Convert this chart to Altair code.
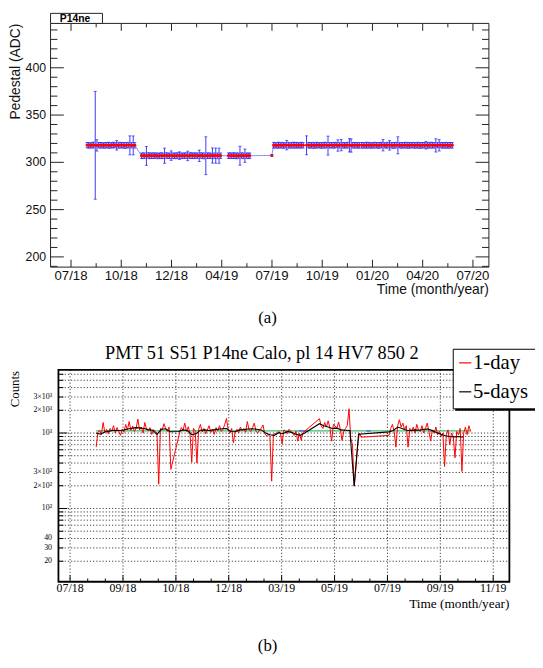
import altair as alt
import pandas as pd

# ======================= panel (a): pedestal vs time =======================
A_SEG_START = [29, 128, 286, 365, 368, 428, 528]   # first day of each run (day 0 = tick "07/18")
A_STEP = 3                                         # days between plotted points
A_SEG_VALUES = [
    [318.2, 318.0, 317.8, 318.1, 318.3, 318.0, 317.9, 318.2, 318.0, 318.1,
     317.8, 318.0, 318.2, 318.1, 317.9, 318.0, 318.3, 318.1, 318.0, 317.9,
     318.2, 318.0, 318.1, 317.8, 318.0, 318.2, 318.0, 318.1, 317.9, 318.0],
    [306.9, 307.1, 307.0, 306.8, 307.2, 307.0, 306.9, 307.1, 307.0, 307.2,
     306.8, 307.0, 307.1, 306.9, 307.0, 307.2, 307.0, 306.9, 307.1, 307.0,
     306.8, 307.0, 307.2, 307.1, 306.9, 307.0, 307.0, 307.1, 306.8, 307.0,
     307.2, 306.9, 307.0, 307.1, 307.0, 306.9, 307.2, 307.0, 306.8, 307.0,
     307.1, 307.0, 306.9, 307.2, 307.0, 307.1, 306.9, 307.0, 307.0],
    [307.0, 307.2, 306.9, 307.1, 307.0, 306.8, 307.1, 307.0, 307.2, 306.9,
     307.0, 307.1, 306.9, 307.0],
    [307.3],
    [318.1, 318.0, 317.9, 318.2, 318.0, 318.1, 317.8, 318.0, 318.2, 318.1,
     317.9, 318.0, 318.2, 318.0, 318.1, 317.9, 318.0, 318.2, 318.0],
    [318.0, 318.2, 317.9, 318.1, 318.0, 317.8, 318.2, 318.0, 318.1, 317.9,
     318.0, 318.2, 318.1, 317.7, 318.0, 318.2, 317.9, 318.1, 318.3, 317.8,
     318.0, 318.2, 318.1, 317.9, 318.0, 318.2, 318.0, 317.8, 318.1, 318.0,
     318.2, 317.9, 318.0],
    [318.1, 318.0, 317.9, 318.2, 318.0, 318.1, 317.8, 318.0, 318.2, 318.1,
     317.9, 318.0, 318.3, 318.1, 318.0, 317.9, 318.2, 318.0, 318.1, 317.8,
     318.0, 318.2, 318.0, 318.1, 317.9, 318.0, 318.2, 318.1, 317.9, 318.0,
     318.1, 318.2, 317.9, 318.0, 318.1, 318.0, 317.8, 318.2, 318.0, 318.1,
     317.9, 318.0, 318.2, 318.1, 318.0, 317.9, 318.1, 318.0, 318.2, 317.9,
     318.0, 318.1, 318.0, 317.9, 318.1, 318.0],
]
A_SEG_ERRORS = [
    [2.8, 3.0, 2.7, 2.9, 3.1, 57.0, 6.0, 2.8, 3.0, 2.9,
     2.7, 3.0, 2.8, 3.1, 2.9, 2.8, 3.0, 2.7, 5.0, 2.9,
     3.0, 2.8, 2.9, 3.1, 2.8, 3.0, 10.0, 2.9, 10.0, 3.0],
    [2.9, 3.0, 2.8, 10.0, 2.9, 3.1, 2.8, 3.0, 2.9, 2.7,
     3.0, 2.8, 3.1, 2.9, 8.0, 3.0, 2.8, 2.9, 5.0, 3.0,
     2.8, 3.1, 2.9, 4.0, 3.0, 2.8, 2.9, 3.0, 5.0, 2.8,
     3.1, 2.9, 3.0, 2.8, 2.9, 6.0, 3.0, 2.8, 3.1, 20.0,
     2.9, 3.0, 2.8, 8.0, 2.9, 8.0, 3.0, 8.0, 2.9],
    [2.9, 3.0, 2.8, 3.1, 2.9, 3.0, 2.8, 10.0, 2.9, 3.0,
     7.0, 2.8, 3.0, 2.9],
    [1.0],
    [3.0, 2.8, 2.9, 3.1, 2.8, 3.0, 2.9, 2.8, 5.0, 3.0,
     2.9, 2.8, 3.1, 2.9, 3.0, 2.8, 2.9, 3.0, 2.8],
    [10.0, 2.9, 3.0, 2.8, 3.1, 2.9, 3.0, 2.8, 2.9, 3.0,
     2.8, 3.1, 2.9, 10.0, 3.0, 2.8, 2.9, 3.0, 2.8, 6.0,
     2.9, 6.0, 3.0, 2.8, 2.9, 3.1, 7.0, 7.0, 2.9, 3.0,
     2.8, 2.9, 3.0],
    [2.9, 3.0, 2.8, 3.1, 2.9, 3.0, 2.8, 2.9, 3.0, 2.8,
     3.1, 2.9, 3.0, 6.0, 2.8, 2.9, 3.0, 5.0, 2.8, 3.1,
     2.9, 3.0, 9.0, 2.8, 2.9, 3.0, 2.8, 3.1, 2.9, 3.0,
     2.8, 2.9, 3.0, 2.8, 3.1, 2.9, 3.0, 2.8, 2.9, 4.0,
     3.0, 2.8, 3.1, 2.9, 3.0, 7.0, 2.8, 6.0, 2.9, 3.0,
     2.8, 3.1, 2.9, 3.0, 2.8, 2.9],
]
A_TICK_DAYS = [0, 91.3, 182.6, 273.9, 365.2, 456.5, 547.8, 639.1, 730.4]
A_TICK_LABELS = ["07/18", "10/18", "12/18", "04/19", "07/19", "10/19", "01/20", "04/20", "07/20"]
A_MINOR_DAYS = [45.7, 137.0, 228.3, 319.6, 410.9, 502.2, 593.5, 684.8]
A_Y_MAJOR = [200, 250, 300, 350, 400]
A_Y_MINOR = [190, 210, 220, 230, 240, 260, 270, 280, 290, 310, 320, 330, 340,
             360, 370, 380, 390, 410, 420, 430, 440]

# ======================= panel (b): counts vs time =======================
B_RED_START = [30, 126, 287, 367]
B_RED_STEP = 2
B_RED_VALUES = [
    [650, 1010, 1090, 950, 1380, 1020, 1120, 980, 1150, 1060,
     1250, 1000, 1180, 1050, 930, 1130, 1020, 1300, 1100, 1420,
     1080, 1240, 1050, 1150, 1530, 1100, 1200, 1000, 1380, 1120,
     1070, 1180, 960, 1110, 1050, 1000, 210, 1150, 1100, 1330,
     1150, 1050, 1200, 330],
    [1000, 1180, 1090, 1350, 1050, 1210, 1000, 410, 1150, 1080,
     400, 1120, 1300, 1030, 1150, 980, 1100, 1250, 1020, 1120,
     960, 1180, 1060, 1250, 1050, 1120, 1300, 1560, 1100, 1000,
     1150, 740, 1050, 1120, 1000, 1200, 1080, 1150, 1020, 1420,
     1100, 1050, 1180, 1350, 1050, 1000, 1100, 1150, 1280, 980,
     920, 950, 900, 230, 940, 1000, 960, 1050, 1000, 720,
     1100, 1060, 980, 1120, 1050, 1000, 930, 1060, 780, 1000,
     800, 1010],
    [1550, 1250, 1150, 1380, 1200, 1450, 1180, 780, 1300, 1250,
     1150, 1400, 1120, 800, 1050, 1150, 1250, 2100, 850, 700,
     200, 350, 700, 1000, 880],
    [930, 1150, 1300, 1050, 650, 1250, 1500, 1200, 1350, 1100,
     1250, 650, 1150, 1050, 1200, 1000, 1300, 1100, 1050, 1250,
     1000, 1150, 1350, 1050, 780, 1100, 1000, 1200, 950, 1050,
     900, 1000, 360, 950, 1100, 700, 1000, 900, 470, 1050,
     950, 1150, 310, 1000, 1200, 950, 1250, 1050],
]
B_BLACK_START = [30, 125, 287, 367]
B_BLACK_STEP = 5
B_BLACK_VALUES = [
    [1000, 965, 1030, 1060, 1090, 1080, 1090, 1120, 1150, 1180,
     1170, 1150, 1110, 1090, 960, 1120, 1140, 1040],
    [1050, 1100, 1080, 950, 980, 1090, 1100, 1080, 1100, 1120,
     1140, 1150, 1050, 1040, 1100, 1110, 1130, 1140, 1120, 1100,
     1000, 950, 930, 1010, 980, 1050, 1020, 960, 930, 1000],
    [1330, 1250, 1200, 1150, 1160, 1100, 1090, 1080, 198, 965],
    [1036, 1080, 1200, 1150, 1090, 1080, 1100, 1090, 1120, 1130,
     1080, 1010, 960, 920, 900, 890, 900, 880],
]
B_GREEN_DAYS = [30, 461]
B_GREEN_LEVEL = 1070
B_BLUE_SEGS = [[263, 273], [341, 346], [414, 418]]
B_BLUE_LEVEL = 1065
B_TICK_DAYS = [0, 60.9, 121.8, 182.6, 243.5, 304.4, 365.3, 426.1, 487.0]
B_TICK_LABELS = ["07/18", "09/18", "10/18", "12/18", "03/19", "05/19", "07/19", "09/19", "11/19"]
B_MINOR_DAYS = [20.3, 40.6, 81.2, 101.5, 142.1, 162.4, 202.9, 223.2,
                263.8, 284.1, 324.7, 345.0, 385.6, 405.8, 446.4, 466.7]
B_Y_LABEL_VALUES = [20, 30, 40, 100, 200, 300, 1000, 2000, 3000]
B_Y_LABELS = ["20", "30", "40", "10²", "2×10²", "3×10²", "10³", "2×10³", "3×10³"]
B_Y_DECADES = [100, 1000]
B_Y_MINOR = [20, 30, 40, 50, 60, 70, 80, 90, 200, 300, 400, 500, 600, 700, 800, 900,
             2000, 3000, 4000, 5000, 6000]

# ======================= layout (pixels) =======================
W, H = 535, 652
A_X0, A_X1, A_Y0, A_Y1 = 43.2, 488.2, 10.7, 258.1
B_X0, B_X1, B_Y0, B_Y1 = 51.2, 509.0, 362.5, 577.5
SANS = "Liberation Sans"
SERIF = "Liberation Serif"

SAX = alt.Scale(domain=[-37.2, 759.4], range=[A_X0, A_X1], nice=False, zero=False)
SAY = alt.Scale(domain=[189.2, 446.9], range=[A_Y1, A_Y0], nice=False, zero=False)
SBX = alt.Scale(domain=[-13.4, 505.6], range=[B_X0, B_X1], nice=False, zero=False)
SBY = alt.Scale(type="log", domain=[10.7, 6850], range=[B_Y1, B_Y0], nice=False)

one = pd.DataFrame({"k": [0]})


def ax(f):
    return alt.X(f + ":Q", scale=SAX, axis=None)


def ay(f):
    return alt.Y(f + ":Q", scale=SAY, axis=None)


def bx(f):
    return alt.X(f + ":Q", scale=SBX, axis=None)


def by(f):
    return alt.Y(f + ":Q", scale=SBY, axis=None)


# ---------- panel (a) ----------
rows = []
for start, vals, errs in zip(A_SEG_START, A_SEG_VALUES, A_SEG_ERRORS):
    for i, (v, e) in enumerate(zip(vals, errs)):
        rows.append({"day": start + i * A_STEP, "val": v, "lo": v - e, "hi": v + e})
dfa = pd.DataFrame(rows)
dfa_xt = pd.DataFrame({"d": A_TICK_DAYS, "lab": A_TICK_LABELS})
dfa_xm = pd.DataFrame({"d": A_MINOR_DAYS})
dfa_yt = pd.DataFrame({"v": A_Y_MAJOR, "lab": [str(v) for v in A_Y_MAJOR]})
dfa_ym = pd.DataFrame({"v": A_Y_MINOR})

FR = "#222222"
a_layers = [
    alt.Chart(dfa).mark_line(color="#8c8cff", strokeWidth=1).encode(x=ax("day"), y=ay("val")),
    alt.Chart(dfa).mark_rule(color="#3a3aff", strokeWidth=1).encode(x=ax("day"), y=ay("lo"), y2="hi:Q"),
    alt.Chart(dfa).mark_tick(orient="horizontal", size=3, thickness=1, color="#2020ff").encode(x=ax("day"), y=ay("lo")),
    alt.Chart(dfa).mark_tick(orient="horizontal", size=3, thickness=1, color="#2020ff").encode(x=ax("day"), y=ay("hi")),
    alt.Chart(dfa).mark_circle(size=9, color="#ff0000", opacity=1).encode(x=ax("day"), y=ay("val")),
    # inward ticks on four sides
    alt.Chart(dfa_xt).mark_rule(color=FR).encode(x=ax("d"), y=alt.value(A_Y1), y2=alt.value(A_Y1 - 7.5)),
    alt.Chart(dfa_xm).mark_rule(color=FR).encode(x=ax("d"), y=alt.value(A_Y1), y2=alt.value(A_Y1 - 4)),
    alt.Chart(dfa_xt).mark_rule(color=FR).encode(x=ax("d"), y=alt.value(A_Y0), y2=alt.value(A_Y0 + 7.5)),
    alt.Chart(dfa_xm).mark_rule(color=FR).encode(x=ax("d"), y=alt.value(A_Y0), y2=alt.value(A_Y0 + 4)),
    alt.Chart(dfa_yt).mark_rule(color=FR).encode(y=ay("v"), x=alt.value(A_X0), x2=alt.value(A_X0 + 13.5)),
    alt.Chart(dfa_ym).mark_rule(color=FR).encode(y=ay("v"), x=alt.value(A_X0), x2=alt.value(A_X0 + 7)),
    alt.Chart(dfa_yt).mark_rule(color=FR).encode(y=ay("v"), x=alt.value(A_X1), x2=alt.value(A_X1 - 13.5)),
    alt.Chart(dfa_ym).mark_rule(color=FR).encode(y=ay("v"), x=alt.value(A_X1), x2=alt.value(A_X1 - 7)),
    # frame
    alt.Chart(one).mark_rect(fillOpacity=0, stroke=FR, strokeWidth=1).encode(
        x=alt.value(A_X0), x2=alt.value(A_X1), y=alt.value(A_Y0), y2=alt.value(A_Y1)),
    # labels
    alt.Chart(dfa_xt).mark_text(font=SANS, fontSize=13.4, align="center", baseline="middle", color="#111").encode(
        x=ax("d"), y=alt.value(267.4), text="lab:N"),
    alt.Chart(dfa_yt).mark_text(font=SANS, fontSize=12.5, align="right", baseline="middle", color="#111").encode(
        y=ay("v"), x=alt.value(38.7), text="lab:N"),
    alt.Chart(one).mark_text(font=SANS, fontSize=14, align="right", baseline="alphabetic", color="#111",
                             text="Time (month/year)").encode(x=alt.value(A_X1), y=alt.value(285.4)),
    alt.Chart(one).mark_text(font=SANS, fontSize=14, align="right", baseline="middle", angle=270, color="#111",
                             text="Pedestal (ADC)").encode(x=alt.value(8.2), y=alt.value(11)),
    # P14ne label box
    alt.Chart(one).mark_rect(fill="white", stroke=FR, strokeWidth=1).encode(
        x=alt.value(A_X0), x2=alt.value(95.9), y=alt.value(0.5), y2=alt.value(A_Y0)),
    alt.Chart(one).mark_text(font=SANS, fontSize=10.5, fontWeight="bold", align="left", baseline="alphabetic",
                             text="P14ne").encode(x=alt.value(52.6), y=alt.value(9.3)),
]
panel_a = alt.layer(*a_layers)

# ---------- panel (b) ----------
red_rows = []
for start, vals in zip(B_RED_START, B_RED_VALUES):
    for i, v in enumerate(vals):
        red_rows.append({"day": start + i * B_RED_STEP, "val": v})
dfr = pd.DataFrame(red_rows)
blk_rows = []
for start, vals in zip(B_BLACK_START, B_BLACK_VALUES):
    for i, v in enumerate(vals):
        blk_rows.append({"day": start + i * B_BLACK_STEP, "val": v})
dfk = pd.DataFrame(blk_rows)
dfg = pd.DataFrame({"day": B_GREEN_DAYS, "val": [B_GREEN_LEVEL] * len(B_GREEN_DAYS)})
blue_rows = []
for j, (d0, d1) in enumerate(B_BLUE_SEGS):
    blue_rows += [{"day": d0, "val": B_BLUE_LEVEL, "seg": j}, {"day": d1, "val": B_BLUE_LEVEL, "seg": j}]
dfb = pd.DataFrame(blue_rows)
dfb_xt = pd.DataFrame({"d": B_TICK_DAYS, "lab": B_TICK_LABELS})
dfb_xm = pd.DataFrame({"d": B_MINOR_DAYS})
dfb_yl = pd.DataFrame({"v": B_Y_LABEL_VALUES, "lab": B_Y_LABELS})
dfb_yd = pd.DataFrame({"v": B_Y_DECADES})
dfb_ym = pd.DataFrame({"v": B_Y_MINOR})
dfb_grid = pd.DataFrame({"v": B_Y_MINOR + B_Y_DECADES})

DOT = [1.2, 2.0]
b_layers = [
    alt.Chart(dfb_grid).mark_rule(color="#111", strokeWidth=0.8, strokeDash=DOT).encode(
        y=by("v"), x=alt.value(B_X0), x2=alt.value(B_X1)),
    alt.Chart(dfb_xt).mark_rule(color="#111", strokeWidth=0.8, strokeDash=DOT).encode(
        x=bx("d"), y=alt.value(B_Y0), y2=alt.value(B_Y1)),
    alt.Chart(dfg).mark_line(color="#3dbb6e", strokeWidth=1.2).encode(x=bx("day"), y=by("val")),
    alt.Chart(dfb).mark_line(color="#4a4aff", strokeWidth=1.2).encode(x=bx("day"), y=by("val"), detail="seg:N"),
    alt.Chart(dfr).mark_line(color="#ff0000", strokeWidth=1).encode(x=bx("day"), y=by("val")),
    alt.Chart(dfk).mark_line(color="#000000", strokeWidth=1.1).encode(x=bx("day"), y=by("val")),
    # frame and inward ticks
    alt.Chart(one).mark_rect(fillOpacity=0, stroke="black", strokeWidth=1.8).encode(
        x=alt.value(B_X0), x2=alt.value(B_X1), y=alt.value(B_Y0), y2=alt.value(B_Y1)),
    alt.Chart(dfb_yd).mark_rule(color="black").encode(y=by("v"), x=alt.value(B_X0), x2=alt.value(B_X0 + 9)),
    alt.Chart(dfb_ym).mark_rule(color="black").encode(y=by("v"), x=alt.value(B_X0), x2=alt.value(B_X0 + 5)),
    alt.Chart(dfb_xt).mark_rule(color="black").encode(x=bx("d"), y=alt.value(B_Y1), y2=alt.value(B_Y1 - 6.5)),
    alt.Chart(dfb_xm).mark_rule(color="black").encode(x=bx("d"), y=alt.value(B_Y1), y2=alt.value(B_Y1 - 3.3)),
    # labels
    alt.Chart(dfb_xt).mark_text(font=SERIF, fontSize=12, align="center", baseline="alphabetic").encode(
        x=bx("d"), y=alt.value(588), text="lab:N"),
    alt.Chart(dfb_yl).mark_text(font=SERIF, fontSize=8, align="right", baseline="middle").encode(
        y=by("v"), x=alt.value(44.7), text="lab:N"),
    alt.Chart(one).mark_text(font=SERIF, fontSize=13.5, align="right", baseline="alphabetic",
                             text="Time (month/year)").encode(x=alt.value(B_X1), y=alt.value(604.5)),
    alt.Chart(one).mark_text(font=SERIF, fontSize=13, align="right", baseline="middle", angle=270,
                             text="Counts").encode(x=alt.value(7.5), y=alt.value(363.5)),
    alt.Chart(one).mark_text(font=SERIF, fontSize=18.5, align="center", baseline="alphabetic",
                             text="PMT 51 S51 P14ne Calo, pl 14 HV7 850 2").encode(
        x=alt.value(257.7), y=alt.value(351.5)),
    # legend box (runs off the right edge, as in the original)
    alt.Chart(one).mark_rect(fill="black").encode(
        x=alt.value(454), x2=alt.value(560), y=alt.value(343.5), y2=alt.value(404)),
    alt.Chart(one).mark_rect(fill="white", stroke="black", strokeWidth=1).encode(
        x=alt.value(452), x2=alt.value(560), y=alt.value(341.5), y2=alt.value(402)),
    alt.Chart(one).mark_rule(color="#ff0000", strokeWidth=1.2).encode(
        x=alt.value(458), x2=alt.value(470.3), y=alt.value(355.3)),
    alt.Chart(one).mark_rule(color="black", strokeWidth=1.2).encode(
        x=alt.value(458), x2=alt.value(470.3), y=alt.value(384.7)),
    alt.Chart(one).mark_text(font=SERIF, fontSize=21, align="left", baseline="alphabetic", text="1-day").encode(
        x=alt.value(472), y=alt.value(361.3)),
    alt.Chart(one).mark_text(font=SERIF, fontSize=21, align="left", baseline="alphabetic", text="5-days").encode(
        x=alt.value(472), y=alt.value(391.3)),
]
panel_b = alt.layer(*b_layers)

captions = alt.layer(
    alt.Chart(one).mark_text(font=SERIF, fontSize=17, align="center", baseline="middle", text="(a)").encode(
        x=alt.value(263.5), y=alt.value(310)),
    alt.Chart(one).mark_text(font=SERIF, fontSize=17, align="center", baseline="middle", text="(b)").encode(
        x=alt.value(263.5), y=alt.value(643)),
)

chart = (
    alt.layer(panel_a, panel_b, captions)
    .resolve_scale(x="independent", y="independent")
    .properties(width=W, height=H, autosize=alt.AutoSizeParams(type="none"), padding=0)
    .configure_view(stroke="transparent")
)

chart.save("out.html", embed_options={"renderer": "svg", "actions": False})
